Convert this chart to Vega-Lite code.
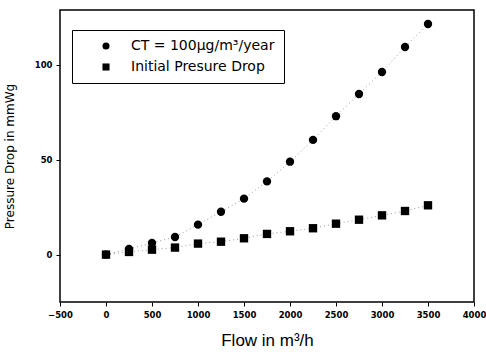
{
  "$schema": "https://vega.github.io/schema/vega-lite/v6.json",
  "width": 414,
  "height": 292,
  "autosize": "none",
  "padding": {"left": 60, "top": 10, "right": 12, "bottom": 56},
  "background": "white",
  "config": {
    "view": {"stroke": "black", "strokeWidth": 1.5},
    "font": "Liberation Sans"
  },
  "data": {
    "values": [
      {"flow": 0, "dp": 0, "series": "CT = 100μg/m³/year"},
      {"flow": 250, "dp": 3.0, "series": "CT = 100μg/m³/year"},
      {"flow": 500, "dp": 6.1, "series": "CT = 100μg/m³/year"},
      {"flow": 750, "dp": 9.3, "series": "CT = 100μg/m³/year"},
      {"flow": 1000, "dp": 15.8, "series": "CT = 100μg/m³/year"},
      {"flow": 1250, "dp": 22.6, "series": "CT = 100μg/m³/year"},
      {"flow": 1500, "dp": 29.5, "series": "CT = 100μg/m³/year"},
      {"flow": 1750, "dp": 38.6, "series": "CT = 100μg/m³/year"},
      {"flow": 2000, "dp": 49, "series": "CT = 100μg/m³/year"},
      {"flow": 2250, "dp": 60.5, "series": "CT = 100μg/m³/year"},
      {"flow": 2500, "dp": 73, "series": "CT = 100μg/m³/year"},
      {"flow": 2750, "dp": 84.7, "series": "CT = 100μg/m³/year"},
      {"flow": 3000, "dp": 96.3, "series": "CT = 100μg/m³/year"},
      {"flow": 3250, "dp": 109.5, "series": "CT = 100μg/m³/year"},
      {"flow": 3500, "dp": 121.6, "series": "CT = 100μg/m³/year"},
      {"flow": 0, "dp": 0, "series": "Initial Presure Drop"},
      {"flow": 250, "dp": 1.4, "series": "Initial Presure Drop"},
      {"flow": 500, "dp": 2.6, "series": "Initial Presure Drop"},
      {"flow": 750, "dp": 3.7, "series": "Initial Presure Drop"},
      {"flow": 1000, "dp": 5.8, "series": "Initial Presure Drop"},
      {"flow": 1250, "dp": 6.8, "series": "Initial Presure Drop"},
      {"flow": 1500, "dp": 8.6, "series": "Initial Presure Drop"},
      {"flow": 1750, "dp": 10.9, "series": "Initial Presure Drop"},
      {"flow": 2000, "dp": 12.3, "series": "Initial Presure Drop"},
      {"flow": 2250, "dp": 13.9, "series": "Initial Presure Drop"},
      {"flow": 2500, "dp": 16.3, "series": "Initial Presure Drop"},
      {"flow": 2750, "dp": 18.4, "series": "Initial Presure Drop"},
      {"flow": 3000, "dp": 20.7, "series": "Initial Presure Drop"},
      {"flow": 3250, "dp": 23, "series": "Initial Presure Drop"},
      {"flow": 3500, "dp": 26, "series": "Initial Presure Drop"}
    ]
  },
  "encoding": {
    "x": {
      "field": "flow", "type": "quantitative",
      "scale": {"domain": [-500, 4000], "nice": false},
      "axis": {
        "title": "Flow in m³/h", "titleFontSize": 17, "titleFontWeight": "normal", "titlePadding": 14,
        "values": [-500, 0, 500, 1000, 1500, 2000, 2500, 3000, 3500, 4000], "format": "d",
        "labelFontSize": 8.5, "labelFontWeight": "bold", "labelColor": "black", "labelFont": "DejaVu Sans",
        "grid": false, "domain": false, "tickColor": "black", "tickSize": 4, "labelPadding": 4,
        "labelFlush": false, "labelOverlap": false
      }
    },
    "y": {
      "field": "dp", "type": "quantitative",
      "scale": {"domain": [-25, 129], "nice": false, "zero": false},
      "axis": {
        "title": "Pressure Drop in mmWg", "titleFontSize": 12, "titleFontWeight": "normal", "titlePadding": 18,
        "titleFont": "DejaVu Sans",
        "values": [0, 50, 100],
        "labelFontSize": 8.5, "labelFontWeight": "bold", "labelColor": "black", "labelFont": "DejaVu Sans",
        "grid": false, "domain": false, "tickColor": "black", "tickSize": 4, "labelPadding": 4
      }
    }
  },
  "layer": [
    {
      "mark": {"type": "line", "color": "#999999", "strokeWidth": 1, "strokeDash": [1, 3]},
      "encoding": {"detail": {"field": "series"}}
    },
    {
      "mark": {"type": "point", "filled": true, "opacity": 1, "color": "black", "size": 70},
      "encoding": {
        "shape": {
          "field": "series", "type": "nominal",
          "scale": {"domain": ["CT = 100μg/m³/year", "Initial Presure Drop"], "range": ["circle", "square"]},
          "legend": {
            "title": null, "orient": "none", "legendX": 12, "legendY": 20,
            "labelFont": "DejaVu Sans",
            "labelFontSize": 14, "labelColor": "black", "symbolSize": 50, "symbolFillColor": "black",
            "symbolStrokeColor": "black", "rowPadding": 7, "padding": 9,
            "symbolOffset": 18, "labelOffset": 18,
            "strokeColor": "black", "fillColor": "white",
            "labelLimit": 300
          }
        }
      }
    }
  ]
}
